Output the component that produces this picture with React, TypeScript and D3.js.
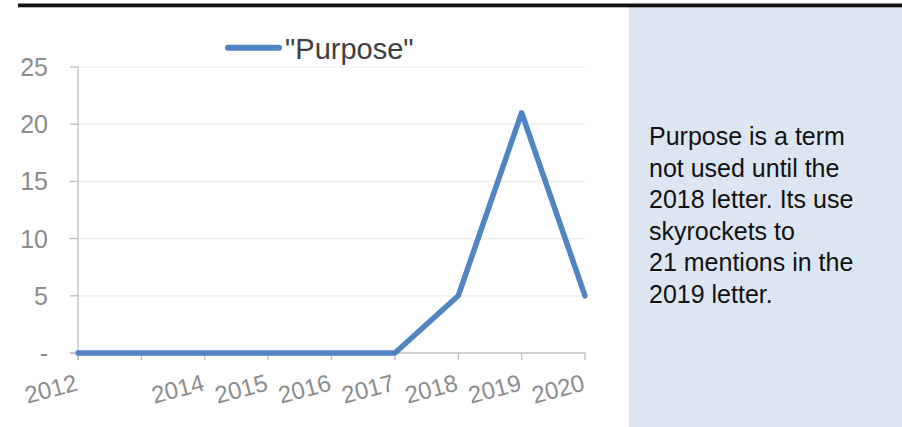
import React, { useEffect, useRef } from "react";
import * as d3 from "d3";

const years = ["2012", "2013", "2014", "2015", "2016", "2017", "2018", "2019", "2020"];
const purposeValues = [0, 0, 0, 0, 0, 0, 5, 21, 5];
const shownXLabels = ["2012", "2014", "2015", "2016", "2017", "2018", "2019", "2020"];
const yTicks = [0, 5, 10, 15, 20, 25];
const seriesName = '"Purpose"';
const noteLines = [
  "Purpose is a term",
  "not used until the",
  "2018 letter. Its use",
  "skyrockets to",
  "21 mentions in the",
  "2019 letter.",
];

const W = 902;
const H = 427;

export default function App() {
  const ref = useRef<SVGSVGElement>(null);

  useEffect(() => {
    document.body.style.margin = "0";
    const svg = d3.select(ref.current);
    svg.selectAll("*").remove();

    const font = "'Liberation Sans', Arial, sans-serif";
    const x = d3.scalePoint<string>().domain(years).range([78, 585]).padding(0);
    const y = d3.scaleLinear().domain([0, 25]).range([353, 67]);

    svg.append("rect").attr("x", 0).attr("y", 0).attr("width", W).attr("height", H).attr("fill", "#ffffff");

    // right panel
    svg.append("rect").attr("x", 629).attr("y", 7).attr("width", W - 629).attr("height", H - 7).attr("fill", "#dce6f2");

    // top rule
    svg.append("rect").attr("x", 18).attr("y", 3.5).attr("width", W - 18).attr("height", 3.8).attr("fill", "#111111");

    // gridlines
    svg.append("g")
      .selectAll("line")
      .data(yTicks.filter((t) => t > 0))
      .join("line")
      .attr("x1", 78)
      .attr("x2", 585)
      .attr("y1", (d) => y(d))
      .attr("y2", (d) => y(d))
      .attr("stroke", "#ebebeb")
      .attr("stroke-width", 1.2);

    // y-axis line and ticks
    svg.append("line").attr("x1", 78).attr("x2", 78).attr("y1", y(25)).attr("y2", y(0) + 7).attr("stroke", "#bfbfbf").attr("stroke-width", 1.3);
    svg.append("g")
      .selectAll("line")
      .data(yTicks)
      .join("line")
      .attr("x1", 70)
      .attr("x2", 78)
      .attr("y1", (d) => y(d))
      .attr("y2", (d) => y(d))
      .attr("stroke", "#bfbfbf")
      .attr("stroke-width", 1.3);

    svg.append("g")
      .selectAll("text")
      .data(yTicks)
      .join("text")
      .attr("x", 48)
      .attr("y", (d) => y(d) + 9)
      .attr("text-anchor", "end")
      .attr("font-family", font)
      .attr("font-size", 25)
      .attr("fill", "#8c8c8c")
      .text((d) => (d === 0 ? "-" : String(d)));

    // x-axis line and ticks
    svg.append("line").attr("x1", 70).attr("x2", 585).attr("y1", y(0)).attr("y2", y(0)).attr("stroke", "#bfbfbf").attr("stroke-width", 1.3);
    svg.append("g")
      .selectAll("line")
      .data(years)
      .join("line")
      .attr("x1", (d) => x(d)!)
      .attr("x2", (d) => x(d)!)
      .attr("y1", y(0))
      .attr("y2", y(0) + 7)
      .attr("stroke", "#bfbfbf")
      .attr("stroke-width", 1.3);

    svg.append("g")
      .selectAll("text")
      .data(shownXLabels)
      .join("text")
      .attr("transform", (d) => `translate(${x(d)! + 1},${390}) rotate(-15)`)
      .attr("text-anchor", "end")
      .attr("font-family", font)
      .attr("font-size", 24)
      .attr("fill", "#8c8c8c")
      .text((d) => d);

    // line
    const data = years.map((yr, i) => ({ yr, v: purposeValues[i] }));
    const line = d3.line<{ yr: string; v: number }>().x((d) => x(d.yr)!).y((d) => y(d.v));
    svg.append("path")
      .datum(data)
      .attr("d", line)
      .attr("fill", "none")
      .attr("stroke", "#5283c4")
      .attr("stroke-width", 5.5)
      .attr("stroke-linejoin", "round")
      .attr("stroke-linecap", "round");

    // legend
    svg.append("line").attr("x1", 228).attr("x2", 279).attr("y1", 47.7).attr("y2", 47.7).attr("stroke", "#5283c4").attr("stroke-width", 6).attr("stroke-linecap", "round");
    svg.append("text")
      .attr("x", 285)
      .attr("y", 58.5)
      .attr("font-family", font)
      .attr("font-size", 29)
      .attr("fill", "#404040")
      .text(seriesName);

    // note text
    svg.append("g")
      .selectAll("text")
      .data(noteLines)
      .join("text")
      .attr("x", 649)
      .attr("y", (_, i) => 145 + i * 31.6)
      .attr("font-family", font)
      .attr("font-size", 25)
      .attr("fill", "#111111")
      .text((d) => d);
  }, []);

  return (
    <div style={{ position: "absolute", left: 0, top: 0 }}>
      <svg ref={ref} width={W} height={H} style={{ display: "block" }} />
    </div>
  );
}
